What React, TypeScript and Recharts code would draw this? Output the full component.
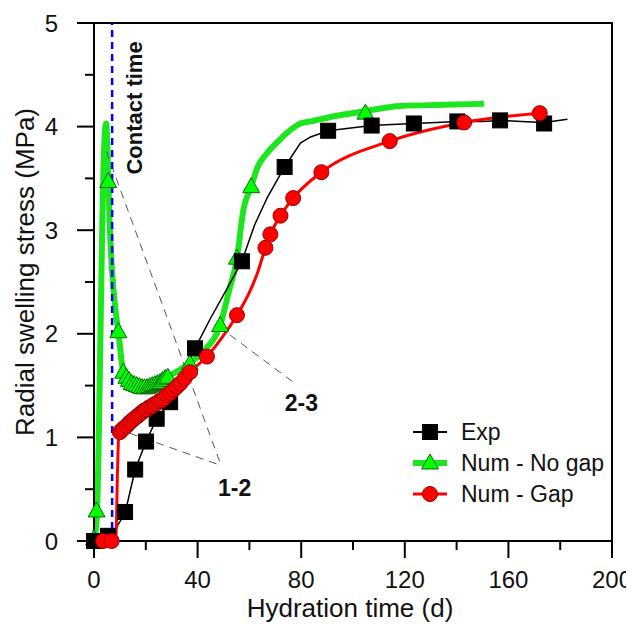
import React from "react";
import {
  ComposedChart,
  Line,
  Scatter,
  XAxis,
  YAxis,
  ReferenceLine,
  ReferenceArea,
  ReferenceDot,
  Legend,
} from "recharts";

// Exp: measured curve and its markers
const expCurve = [
  { x: 0, y: 0 }, { x: 5.4, y: 0.03 }, { x: 7, y: 0.06 }, { x: 12, y: 0.27 },
  { x: 15.9, y: 0.69 }, { x: 20.1, y: 0.96 }, { x: 24.2, y: 1.18 }, { x: 29.4, y: 1.34 },
  { x: 34, y: 1.58 }, { x: 39, y: 1.86 }, { x: 45, y: 2.15 }, { x: 51, y: 2.42 },
  { x: 57.1, y: 2.7 }, { x: 62, y: 3.05 }, { x: 67, y: 3.32 }, { x: 73.6, y: 3.61 },
  { x: 79.7, y: 3.84 }, { x: 83.6, y: 3.9 }, { x: 90.4, y: 3.96 }, { x: 100, y: 3.99 },
  { x: 107.2, y: 4.01 }, { x: 115, y: 4.02 }, { x: 123.5, y: 4.03 }, { x: 132, y: 4.04 },
  { x: 140.3, y: 4.05 }, { x: 150, y: 4.05 }, { x: 156.8, y: 4.06 }, { x: 165, y: 4.05 },
  { x: 173.8, y: 4.04 }, { x: 182.8, y: 4.07 },
];
const expMarks = [
  { x: 0, y: 0 }, { x: 5.4, y: 0.05 }, { x: 12, y: 0.28 }, { x: 15.9, y: 0.69 },
  { x: 20.1, y: 0.96 }, { x: 24.2, y: 1.18 }, { x: 29.4, y: 1.34 }, { x: 39, y: 1.86 },
  { x: 57.1, y: 2.7 }, { x: 73.6, y: 3.61 }, { x: 90.4, y: 3.96 }, { x: 107.2, y: 4.01 },
  { x: 123.5, y: 4.03 }, { x: 140.3, y: 4.05 }, { x: 156.8, y: 4.06 }, { x: 173.8, y: 4.03 },
];

// Num - No gap
const noGapCurve = [
  { x: 0, y: 0 }, { x: 1, y: 0.2 }, { x: 1.7, y: 0.8 }, { x: 2.5, y: 2.0 },
  { x: 3.3, y: 3.2 }, { x: 4.0, y: 3.85 }, { x: 4.7, y: 4.03 }, { x: 5.3, y: 3.7 },
  { x: 6.0, y: 3.1 }, { x: 7, y: 2.6 }, { x: 8.2, y: 2.25 }, { x: 9.4, y: 2.02 },
  { x: 11.3, y: 1.63 }, { x: 13, y: 1.55 }, { x: 15, y: 1.51 }, { x: 19, y: 1.48 },
  { x: 22, y: 1.5 }, { x: 25, y: 1.53 }, { x: 28, y: 1.58 }, { x: 33, y: 1.65 },
  { x: 37, y: 1.72 }, { x: 43, y: 1.85 }, { x: 48.7, y: 2.08 }, { x: 52, y: 2.4 },
  { x: 55.2, y: 2.73 }, { x: 57.7, y: 3.2 }, { x: 60.7, y: 3.42 }, { x: 63, y: 3.6 },
  { x: 66.7, y: 3.74 }, { x: 72, y: 3.88 }, { x: 76, y: 3.97 }, { x: 79.7, y: 4.03 },
  { x: 83.6, y: 4.05 }, { x: 92.6, y: 4.1 }, { x: 104.8, y: 4.15 }, { x: 118.4, y: 4.2 },
  { x: 135, y: 4.21 }, { x: 150.6, y: 4.22 },
];
const noGapMarks = [
  { x: 0, y: 0.02 }, { x: 1, y: 0.29 }, { x: 5.5, y: 3.47 }, { x: 9.4, y: 2.02 },
  { x: 11.3, y: 1.63 }, { x: 12.5, y: 1.58 }, { x: 13.5, y: 1.55 }, { x: 14.5, y: 1.52 },
  { x: 15.5, y: 1.51 }, { x: 16.5, y: 1.5 }, { x: 17.5, y: 1.49 }, { x: 18.5, y: 1.48 },
  { x: 19.5, y: 1.48 }, { x: 20.5, y: 1.48 }, { x: 21.5, y: 1.49 }, { x: 22.5, y: 1.5 },
  { x: 23.5, y: 1.51 }, { x: 24.5, y: 1.52 }, { x: 25.5, y: 1.53 }, { x: 26.5, y: 1.55 },
  { x: 27.5, y: 1.57 }, { x: 28.5, y: 1.58 }, { x: 37, y: 1.71 }, { x: 48.7, y: 2.08 },
  { x: 55.2, y: 2.73 }, { x: 60.7, y: 3.42 }, { x: 104.8, y: 4.13 },
];

// Num - Gap
const gapCurve = [
  { x: 0, y: 0 }, { x: 3.5, y: 0 }, { x: 6.8, y: 0 }, { x: 8.5, y: 0.02 },
  { x: 9.0, y: 0.6 }, { x: 9.6, y: 1.03 }, { x: 12.6, y: 1.11 }, { x: 16.5, y: 1.2 },
  { x: 20.4, y: 1.27 }, { x: 24.2, y: 1.33 }, { x: 28.1, y: 1.41 }, { x: 33.3, y: 1.52 },
  { x: 37.1, y: 1.63 }, { x: 43.6, y: 1.78 }, { x: 51.3, y: 2.03 }, { x: 55.2, y: 2.18 },
  { x: 60, y: 2.4 }, { x: 63, y: 2.58 }, { x: 66.2, y: 2.83 }, { x: 68.1, y: 2.96 },
  { x: 72, y: 3.14 }, { x: 76.9, y: 3.31 }, { x: 87.8, y: 3.56 }, { x: 114.2, y: 3.86 },
  { x: 142.9, y: 4.04 }, { x: 172.1, y: 4.13 },
];
const gapMarks = [
  { x: 3.5, y: 0 }, { x: 6.8, y: 0 }, { x: 10, y: 1.05 }, { x: 10.7, y: 1.07 },
  { x: 11.5, y: 1.09 }, { x: 12.6, y: 1.11 }, { x: 13.6, y: 1.14 }, { x: 14.6, y: 1.16 },
  { x: 15.5, y: 1.18 }, { x: 16.5, y: 1.2 }, { x: 17.5, y: 1.22 }, { x: 18.4, y: 1.24 },
  { x: 19.4, y: 1.26 }, { x: 20.4, y: 1.27 }, { x: 21.3, y: 1.29 }, { x: 22.3, y: 1.3 },
  { x: 23.3, y: 1.32 }, { x: 24.2, y: 1.33 }, { x: 25.2, y: 1.35 }, { x: 26.2, y: 1.36 },
  { x: 27.2, y: 1.38 }, { x: 28.1, y: 1.41 }, { x: 29.4, y: 1.43 }, { x: 30.7, y: 1.46 },
  { x: 32, y: 1.49 }, { x: 33.3, y: 1.52 }, { x: 35, y: 1.57 }, { x: 37.1, y: 1.63 },
  { x: 43.6, y: 1.78 }, { x: 55.2, y: 2.18 }, { x: 66.2, y: 2.83 }, { x: 68.1, y: 2.96 },
  { x: 72, y: 3.14 }, { x: 76.9, y: 3.31 }, { x: 87.8, y: 3.56 }, { x: 114.2, y: 3.86 },
  { x: 142.9, y: 4.04 }, { x: 172.1, y: 4.13 },
];

const xTicks = [0, 20, 40, 60, 80, 100, 120, 140, 160, 180, 200];
const yTicks = [0, 0.5, 1, 1.5, 2, 2.5, 3, 3.5, 4, 4.5, 5];
const contactTime = 7;

const FONT = "'Liberation Sans', Arial, sans-serif";
const GREEN_LINE = "#1ee61e";
const GREEN_FILL = "#00ff00";
const RED = "#ff0000";

const Square = ({ cx, cy }: any) => (
  <rect x={cx - 7.5} y={cy - 7.5} width={15} height={15} fill="#000" stroke="#000" />
);
const Triangle = ({ cx, cy }: any) => (
  <path
    d={`M${cx},${cy - 9} L${cx + 8.5},${cy + 6} L${cx - 8.5},${cy + 6} Z`}
    fill={GREEN_FILL}
    stroke="#0a6a0a"
    strokeWidth={1}
  />
);
const Circle = ({ cx, cy }: any) => (
  <circle cx={cx} cy={cy} r={7.5} fill={RED} stroke="#9a0000" strokeWidth={1} />
);

function XTick({ x, y, payload }: any) {
  const major = payload.value % 40 === 0;
  return (
    <g>
      <line x1={x} x2={x} y1={y} y2={y + (major ? 17 : 9)} stroke="#000" strokeWidth={2} />
      {major && (
        <text x={x} y={y + 47} textAnchor="middle" fontSize={24} fontFamily={FONT} fill="#111">
          {payload.value}
        </text>
      )}
    </g>
  );
}

function YTick({ x, y, payload }: any) {
  const major = Number.isInteger(payload.value);
  return (
    <g>
      <line x1={x - (major ? 17 : 9)} x2={x} y1={y} y2={y} stroke="#000" strokeWidth={2} />
      {major && (
        <text x={x - 36} y={y + 8.6} textAnchor="end" fontSize={24} fontFamily={FONT} fill="#111">
          {payload.value}
        </text>
      )}
    </g>
  );
}

const textLabel = (value: string) => ({ cx, cy }: any) => (
  <text x={cx} y={cy + 8.2} textAnchor="middle" fontSize={23} fontWeight="bold" fontFamily={FONT} fill="#111">
    {value}
  </text>
);

const ContactLabel = ({ cx, cy }: any) => (
  <text
    x={cx}
    y={cy}
    dy={7.9}
    transform={`rotate(-90 ${cx} ${cy})`}
    textAnchor="middle"
    fontSize={22}
    fontWeight="bold"
    fontFamily={FONT}
    fill="#111"
  >
    Contact time
  </text>
);

const legendRows = [
  { name: "Exp", color: "#000", width: 2, Mark: Square },
  { name: "Num - No gap", color: GREEN_LINE, width: 6, Mark: Triangle },
  { name: "Num - Gap", color: RED, width: 3, Mark: Circle },
];

function LegendBox() {
  return (
    <svg width={215} height={100}>
      {legendRows.map((r, i) => {
        const cy = 22 + i * 31;
        return (
          <g key={r.name}>
            <line x1={8} x2={42} y1={cy} y2={cy} stroke={r.color} strokeWidth={r.width} />
            <r.Mark cx={25} cy={cy} />
            <text x={56} y={cy + 8.2} fontSize={23} fontFamily={FONT} fill="#111">
              {r.name}
            </text>
          </g>
        );
      })}
    </svg>
  );
}

export default function App() {
  return (
    <ComposedChart
      width={626}
      height={624}
      margin={{ top: 15, right: 22, left: 0, bottom: 0 }}
      style={{ fontFamily: FONT }}
    >
      <XAxis
        type="number"
        dataKey="x"
        domain={[0, 200]}
        ticks={xTicks}
        interval={0}
        tickSize={0}
        tickMargin={0}
        tick={<XTick />}
        height={91}
        axisLine={{ stroke: "#000", strokeWidth: 2 }}
        label={{
          content: ({ viewBox }: any) => (
            <text
              x={viewBox.x + viewBox.width / 2 - 3}
              y={viewBox.y + 76}
              textAnchor="middle"
              fontSize={26}
              fontFamily={FONT}
              fill="#111"
            >
              Hydration time (d)
            </text>
          ),
        }}
      />
      <YAxis
        type="number"
        dataKey="y"
        domain={[0, 5]}
        ticks={yTicks}
        interval={0}
        tickSize={0}
        tickMargin={0}
        tick={<YTick />}
        width={86}
        axisLine={{ stroke: "#000", strokeWidth: 2 }}
        label={{
          content: ({ viewBox }: any) => {
            const lx = 26;
            const ly = viewBox.y + viewBox.height / 2 - 10;
            return (
              <text
                x={lx}
                y={ly}
                transform={`rotate(-90 ${lx} ${ly})`}
                textAnchor="middle"
                fontSize={26}
                fontFamily={FONT}
                fill="#111"
              >
                Radial swelling stress (MPa)
              </text>
            );
          },
        }}
      />
      <ReferenceArea x1={0} x2={200} y1={0} y2={5} fill="none" stroke="#000" strokeWidth={2} />

      <Line data={noGapCurve} dataKey="y" type="monotone" stroke={GREEN_LINE} strokeWidth={6} dot={false} isAnimationActive={false} />
      <Scatter data={noGapMarks} dataKey="y" shape={Triangle} isAnimationActive={false} />

      <Line data={expCurve} dataKey="y" type="linear" stroke="#000" strokeWidth={1.5} dot={false} isAnimationActive={false} />
      <Scatter data={expMarks} dataKey="y" shape={Square} isAnimationActive={false} />

      <Line data={gapCurve} dataKey="y" type="monotone" stroke={RED} strokeWidth={3} dot={false} isAnimationActive={false} />
      <Scatter data={gapMarks} dataKey="y" shape={Circle} isAnimationActive={false} />

      <ReferenceLine segment={[{ x: 4.8, y: 3.76 }, { x: 49.2, y: 0.72 }]} stroke="#555" strokeWidth={1} strokeDasharray="8 6" />
      <ReferenceLine segment={[{ x: 13.8, y: 1.04 }, { x: 47.8, y: 0.74 }]} stroke="#555" strokeWidth={1} strokeDasharray="8 6" />
      <ReferenceLine segment={[{ x: 52.4, y: 1.99 }, { x: 76.6, y: 1.54 }]} stroke="#555" strokeWidth={1} strokeDasharray="8 6" />

      <ReferenceDot x={54.3} y={0.51} r={0} shape={textLabel("1-2")} />
      <ReferenceDot x={80.1} y={1.33} r={0} shape={textLabel("2-3")} />
      <ReferenceDot x={15.6} y={4.18} r={0} shape={ContactLabel} />

      <ReferenceLine x={contactTime} stroke="#0000ff" strokeWidth={2.5} strokeDasharray="7 5" />

      <Legend
        layout="horizontal"
        verticalAlign="middle"
        align="center"
        wrapperStyle={{ left: 397, top: 402, width: 215, height: 100 }}
        content={() => <LegendBox />}
      />
    </ComposedChart>
  );
}
